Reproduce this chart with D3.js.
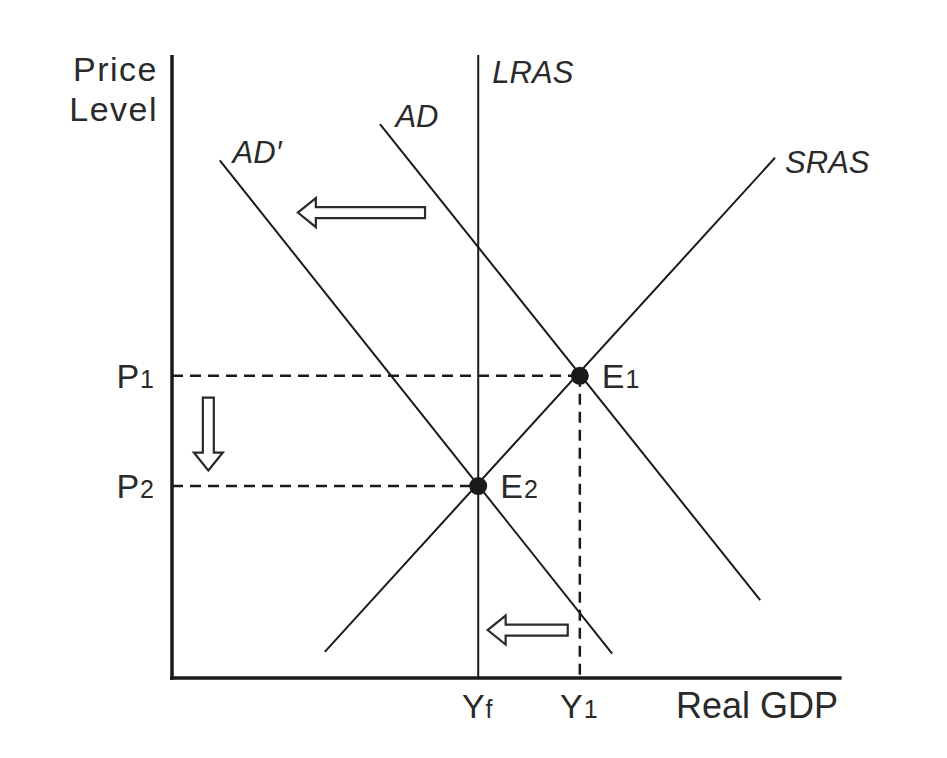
<!DOCTYPE html>
<html><head><meta charset="utf-8">
<script src="https://cdn.jsdelivr.net/npm/d3@7"></script>
<style>
html,body{margin:0;padding:0;background:#fff;}
svg text{font-family:"Liberation Sans","DejaVu Sans",sans-serif;fill:#2a2a2a;}
</style></head>
<body><div id="chart"></div>
<script>
// Curves (abstract units, x: real GDP 0..100, y: price level 0..100)
const sras = [[22.7, 4.2], [89.6, 83.5]];
const ad = [[30.9, 88.9], [87.4, 12.5]];
const adPrime = [[7.1, 83.1], [65.4, 3.9]];
const lrasX = 45.5;
const equilibria = [
  {name: "E", sub: "1", x: 60.6, y: 48.5},
  {name: "E", sub: "2", x: 45.5, y: 30.8}
];
const priceTicks = [{name: "P", sub: "1", y: 48.5}, {name: "P", sub: "2", y: 30.8}];
const gdpTicks = [{name: "Y", sub: "f", x: 45.5}, {name: "Y", sub: "1", x: 60.6}];
const curveLabels = [
  {text: "LRAS", x: 47.6, y: 95.5},
  {text: "AD", x: 33.2, y: 88.4},
  {text: "AD\u2032", x: 9.0, y: 82.7},
  {text: "SRAS", x: 91.1, y: 81.1}
];
// shift arrows: [tail, head]
const arrows = [
  [[37.6, 74.7], [18.7, 74.7]],
  [[5.4, 45.0], [5.4, 33.3]],
  [[58.8, 7.7], [46.9, 7.7]]
];

const W = 947, H = 758;
const svg = d3.select("#chart").append("svg").attr("width", W).attr("height", H);
const x = d3.scaleLinear().domain([0, 100]).range([172, 845]);
const y = d3.scaleLinear().domain([0, 100]).range([678, 55]);
const ink = "#1a1a1a";

// axes
const xAxis = d3.axisBottom(x).tickValues([]).tickSize(0).tickSizeOuter(0);
const yAxis = d3.axisLeft(y).tickValues([]).tickSize(0).tickSizeOuter(0);
svg.append("g").attr("transform", `translate(0,${y(0)})`).call(xAxis)
  .select(".domain").attr("stroke", ink).attr("stroke-width", 3.5).attr("d", `M${x(0)-2},0H${x(99.5)}`);
svg.append("g").attr("transform", `translate(${x(0)},0)`).call(yAxis)
  .select(".domain").attr("stroke", ink).attr("stroke-width", 3.5).attr("d", `M0,${y(0)+2}V${y(100)}`);

// dashed guides
const dash = svg.append("g").attr("stroke", ink).attr("stroke-width", 2.5).attr("stroke-dasharray", "11,7").attr("fill", "none");
equilibria.forEach(e => {
  dash.append("line").attr("x1", x(0)).attr("x2", x(e.x)).attr("y1", y(e.y)).attr("y2", y(e.y));
});
dash.append("line").attr("x1", x(equilibria[0].x)).attr("x2", x(equilibria[0].x))
  .attr("y1", y(equilibria[0].y)).attr("y2", y(0));

// curves
const line = d3.line().x(d => x(d[0])).y(d => y(d[1]));
[sras, ad, adPrime].forEach(c => {
  svg.append("path").attr("d", line(c)).attr("stroke", ink).attr("stroke-width", 2).attr("fill", "none");
});
svg.append("line").attr("x1", x(lrasX)).attr("x2", x(lrasX)).attr("y1", y(0)).attr("y2", y(100))
  .attr("stroke", ink).attr("stroke-width", 2);

// equilibrium points
svg.selectAll("circle.eq").data(equilibria).join("circle")
  .attr("cx", d => x(d.x)).attr("cy", d => y(d.y)).attr("r", 9).attr("fill", ink);

function subText(g, d, px, py, anchor) {
  const t = g.append("text").attr("x", px).attr("y", py).attr("text-anchor", anchor).attr("font-size", 34);
  t.append("tspan").text(d.name);
  t.append("tspan").attr("font-size", 25).attr("dx", 1).text(d.sub);
  return t;
}
equilibria.forEach(e => subText(svg, e, x(e.x) + 22, y(e.y) + 12, "start"));
priceTicks.forEach(p => subText(svg, p, x(0) - 18, y(p.y) + 12, "end"));
gdpTicks.forEach(g => subText(svg, g, x(g.x) - 1, 718, "middle"));

svg.append("text").attr("x", 838).attr("y", 718).attr("text-anchor", "end").attr("font-size", 36).text("Real GDP");
svg.append("text").attr("x", 158).attr("y", 81).attr("text-anchor", "end").attr("font-size", 34)
  .attr("letter-spacing", 1.5).text("Price");
svg.append("text").attr("x", 158).attr("y", 121).attr("text-anchor", "end").attr("font-size", 34)
  .attr("letter-spacing", 1.5).text("Level");

svg.selectAll("text.cl").data(curveLabels).join("text")
  .attr("x", d => x(d.x)).attr("y", d => y(d.y)).attr("font-size", 31).attr("font-style", "italic").text(d => d.text);

// block arrows
function blockArrow(a) {
  const x1 = x(a[0][0]), y1 = y(a[0][1]), x2 = x(a[1][0]), y2 = y(a[1][1]);
  const len = Math.hypot(x2 - x1, y2 - y1);
  const ang = Math.atan2(y2 - y1, x2 - x1) * 180 / Math.PI;
  const sw = 5.5, hw = 14.5, hl = 18;
  const pts = [[0, -sw], [len - hl, -sw], [len - hl, -hw], [len, 0], [len - hl, hw], [len - hl, sw], [0, sw]];
  svg.append("polygon").attr("points", pts.map(p => p.join(",")).join(" "))
    .attr("transform", `translate(${x1},${y1}) rotate(${ang})`)
    .attr("fill", "#fff").attr("stroke", "#2a2a2a").attr("stroke-width", 2.2).attr("stroke-linejoin", "miter");
}
arrows.forEach(blockArrow);
</script></body></html>
